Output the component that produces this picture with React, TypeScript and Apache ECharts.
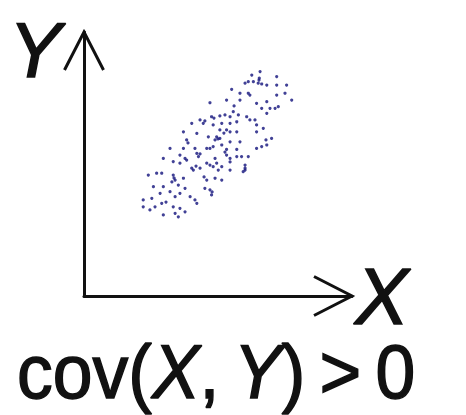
import React, { useEffect, useRef } from "react";
import * as echarts from "echarts";

// Axis extents (abstract units, both axes start at the origin)
const xRange = [0, 10];
const yRange = [0, 10];

// Sample values of X and Y (positively correlated cloud)
const xValues = [
  6.57, 6.26, 6.54, 7.19, 6.01, 6.13, 6.32, 6.5, 6.63, 6.82, 7.19, 7.56, 5.51, 5.82, 6.13, 7.5, 7.19, 7.75, 5.32, 5.82,
  4.7, 6.44, 6.82, 6.63, 6.94, 7.13, 7.25, 5.57, 5.76, 6.07, 6.38, 6.82, 4.76, 5.07, 5.26, 5.45, 4.33, 4.02, 4.45, 4.82,
  5.14, 5.45, 5.7, 6.44, 6.19, 5.07, 5.32, 5.45, 5.7, 6.44, 6.69, 3.71, 4.21, 3.83, 4.64, 4.95, 4.89, 5.07, 5.45, 5.82,
  7.0, 3.21, 3.71, 4.14, 4.58, 4.7, 4.82, 5.14, 5.32, 5.7, 6.44, 6.63, 6.82, 2.96, 3.58, 3.77, 4.21, 4.27, 3.83, 4.89,
  5.32, 5.45, 5.7, 5.88, 6.13, 3.58, 3.33, 4.58, 4.7, 4.95, 4.82, 5.14, 6.01, 6.01, 5.94, 2.4, 2.71, 2.9, 3.33, 3.4,
  3.71, 4.02, 4.08, 4.33, 5.01, 5.45, 2.59, 2.96, 3.52, 4.58, 4.89, 5.14, 2.21, 2.53, 2.84, 3.21, 3.4, 3.58, 3.77, 3.96,
  4.14, 4.51, 4.7, 4.76, 4.21, 2.21, 2.65, 2.9, 3.33, 3.58, 3.77, 2.96, 3.4, 3.52, 4.51, 4.85, 5.22, 5.0, 4.33, 3.36,
  3.28, 6.01, 4.78, 3.88, 5.6, 6.53, 5.26, 4.48, 5.45, 3.06, 2.46, 4.18, 6.79, 6.19,
];
const yValues = [
  8.5, 8.37, 8.25, 8.31, 8.06, 8.12, 8.12, 8.06, 8.03, 7.99, 7.99, 7.99, 7.83, 7.68, 7.68, 7.68, 7.61, 7.42, 7.42, 7.42,
  7.32, 7.3, 7.36, 7.11, 7.11, 7.11, 7.17, 6.98, 6.86, 6.79, 6.67, 6.92, 6.79, 6.82, 6.86, 6.79, 6.67, 6.54, 6.54, 6.48,
  6.54, 6.54, 6.6, 6.48, 6.67, 6.29, 6.29, 6.22, 6.22, 6.22, 6.35, 6.22, 6.16, 5.91, 6.03, 6.03, 5.91, 5.97, 5.84, 5.84,
  5.97, 5.59, 5.59, 5.59, 5.59, 5.59, 5.66, 5.72, 5.55, 5.55, 5.59, 5.66, 5.72, 5.21, 5.34, 5.21, 5.4, 5.28, 5.15, 5.21,
  5.34, 5.21, 5.28, 5.28, 5.28, 5.03, 5.09, 5.03, 4.96, 5.03, 4.9, 4.9, 4.96, 4.84, 4.71, 4.58, 4.65, 4.65, 4.58, 4.39,
  4.46, 4.84, 4.77, 4.84, 4.77, 4.77, 4.14, 4.14, 4.2, 4.39, 4.46, 4.39, 3.64, 3.7, 3.89, 3.95, 3.76, 3.89, 4.08, 3.76,
  3.64, 4.08, 4.02, 3.83, 3.51, 3.38, 3.38, 3.51, 3.38, 3.32, 3.19, 3.07, 3.13, 3.0, 6.63, 6.74, 6.17, 5.95, 5.38, 4.47,
  4.32, 4.77, 3.94, 5.8, 7.2, 8.18, 5.45, 4.51, 5.08, 3.56, 3.26, 4.92, 5.91, 7.61,
];

const xAxisName = "X";
const yAxisName = "Y";
const captionParts = ["cov(", "X", ",\u2009", "Y", ")\u2009>\u20090"];

const FAMILY = "'Liberation Sans', Arial, sans-serif";
const INK = "#111111";
const TEXT_STROKE = 1.5;

export default function App() {
  const ref = useRef<HTMLDivElement>(null);

  useEffect(() => {
    if (!ref.current) return;
    const chart = echarts.init(ref.current, undefined, { renderer: "svg" });

    const points = xValues.map((x, i) => [x, yValues[i]]);

    chart.setOption({
      animation: false,
      backgroundColor: "#ffffff",
      grid: { left: 84, right: 114, top: 32, bottom: 119, containLabel: false },
      xAxis: {
        type: "value",
        min: xRange[0],
        max: xRange[1],
        axisLine: { show: true, onZero: false, lineStyle: { color: INK, width: 3 } },
        axisTick: { show: false },
        axisLabel: { show: false },
        splitLine: { show: false },
      },
      yAxis: {
        type: "value",
        min: yRange[0],
        max: yRange[1],
        axisLine: { show: true, onZero: false, lineStyle: { color: INK, width: 3 } },
        axisTick: { show: false },
        axisLabel: { show: false },
        splitLine: { show: false },
      },
      series: [
        {
          type: "scatter",
          data: points,
          symbol: "circle",
          symbolSize: 3.2,
          itemStyle: { color: "#12127c" },
        },
      ],
    });

    // Open chevron arrowheads at the ends of both axes
    const yTip = chart.convertToPixel({ gridIndex: 0 }, [xRange[0], yRange[1]]) as number[];
    const xTip = chart.convertToPixel({ gridIndex: 0 }, [xRange[1], yRange[0]]) as number[];
    const head = 38;
    const half = 19.5;

    const captionRich = {
      n: { font: "76px " + FAMILY, fill: INK, stroke: INK, lineWidth: TEXT_STROKE },
      i: { font: "italic 76px " + FAMILY, fill: INK, stroke: INK, lineWidth: TEXT_STROKE },
    };

    chart.setOption({
      graphic: [
        {
          type: "polyline",
          shape: {
            points: [
              [yTip[0] - half, yTip[1] + head],
              [yTip[0], yTip[1]],
              [yTip[0] + half, yTip[1] + head],
            ],
          },
          style: { stroke: INK, lineWidth: 3, fill: null },
        },
        {
          type: "polyline",
          shape: {
            points: [
              [xTip[0] - head, xTip[1] - half],
              [xTip[0], xTip[1]],
              [xTip[0] - head, xTip[1] + half],
            ],
          },
          style: { stroke: INK, lineWidth: 3, fill: null },
        },
        {
          type: "text",
          x: 9,
          y: 50,
          style: {
            text: yAxisName,
            font: "italic 78px " + FAMILY,
            fill: INK,
            stroke: INK,
            lineWidth: TEXT_STROKE,
            textVerticalAlign: "middle",
          },
        },
        {
          type: "text",
          x: 355,
          y: 296,
          style: {
            text: xAxisName,
            font: "italic 80px " + FAMILY,
            fill: INK,
            stroke: INK,
            lineWidth: TEXT_STROKE,
            textVerticalAlign: "middle",
          },
        },
        {
          type: "text",
          x: 17,
          y: 372,
          scaleX: 0.94,
          style: {
            text:
              "{n|" + captionParts[0] + "}{i|" + captionParts[1] + "}{n|" + captionParts[2] + "}{i|" +
              captionParts[3] + "}{n|" + captionParts[4] + "}",
            rich: captionRich,
            font: "76px " + FAMILY,
            fill: INK,
            textVerticalAlign: "middle",
          },
        },
      ],
    });

    return () => chart.dispose();
  }, []);

  return (
    <div
      ref={ref}
      style={{ position: "fixed", left: 0, top: 0, width: 466, height: 415, background: "#ffffff" }}
    />
  );
}
